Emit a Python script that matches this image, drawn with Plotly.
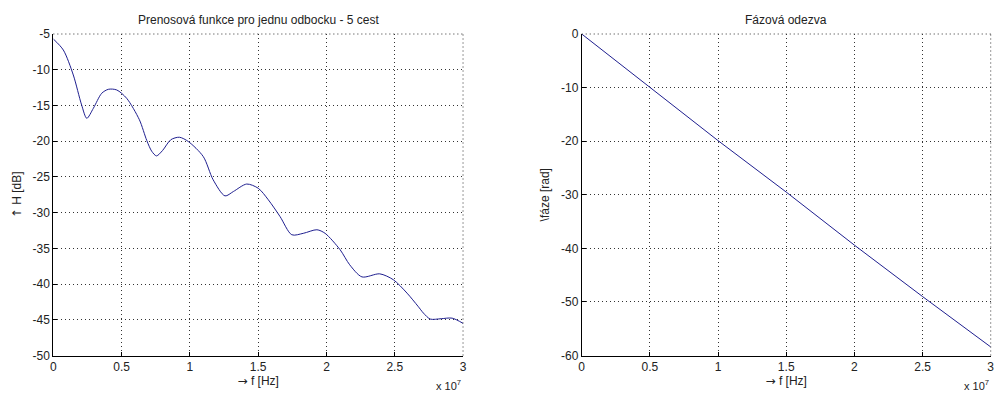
import plotly.graph_objects as go

# Magnitude response (left) – frequency in units of 1e7 Hz
f_mag = [0, 0.073, 0.146, 0.207, 0.245, 0.293, 0.354, 0.403, 0.464, 0.537, 0.63, 0.684,
         0.72, 0.755, 0.8, 0.86, 0.923, 0.989, 1.098, 1.17, 1.257, 1.318, 1.416, 1.501, 1.574,
         1.66, 1.746, 1.83, 1.93, 1.99, 2.1, 2.17, 2.26, 2.39, 2.49, 2.59, 2.67, 2.71,
         2.76, 2.84, 2.92, 3.0]
h_db = [-5.7, -7.24, -10.73, -14.93, -16.8, -15.4, -13.3, -12.74, -12.83, -14.0, -17.0, -19.9,
        -21.4, -22.06, -21.3, -19.8, -19.45, -20.06, -22.16, -25.4, -27.66, -27.05, -26.0, -26.6, -28.2,
        -30.55, -33.1, -32.9, -32.4, -32.9, -35.2, -37.3, -39.0, -38.57, -39.4, -41.27, -43.1, -44.06,
        -44.9, -44.85, -44.77, -45.5]

# Phase response (right)
f_ph = [0, 0.5, 1.0, 1.5, 2.0, 2.5, 3.0]
phase = [0, -10, -19.9, -29.5, -39.4, -49.0, -58.4]

x_ticks = [0, 0.5, 1, 1.5, 2, 2.5, 3]
x_labels = ["0", "0.5", "1", "1.5", "2", "2.5", "3"]
y1_ticks = [-5, -10, -15, -20, -25, -30, -35, -40, -45, -50]
y2_ticks = [0, -10, -20, -30, -40, -50, -60]

FONT = "Liberation Sans, Arial, sans-serif"
ARROW = "<span style='font-family:DejaVu Sans'>%s</span>"
LINE = "#1f1f8f"
TXT = "#222"
GRID = "#333"
DASH = "1px,3px"

fig = go.Figure()
fig.add_trace(go.Scatter(x=[v * 1e7 for v in f_mag], y=h_db, mode="lines",
                         line=dict(color=LINE, width=1, shape="spline", smoothing=0.8),
                         xaxis="x", yaxis="y", showlegend=False))
fig.add_trace(go.Scatter(x=[v * 1e7 for v in f_ph], y=phase, mode="lines",
                         line=dict(color=LINE, width=1),
                         xaxis="x2", yaxis="y2", showlegend=False))

common_x = dict(tickmode="array", tickvals=[v * 1e7 for v in x_ticks], ticktext=x_labels,
                range=[0, 3e7], showgrid=True, gridcolor=GRID, griddash=DASH, gridwidth=1,
                showline=True, linecolor="black", linewidth=1, ticks="inside", ticklen=4,
                tickcolor="black", zeroline=False, automargin=False,
                tickfont=dict(size=12, color=TXT, family=FONT),
                title=dict(text=(ARROW % "→") + " f [Hz]",
                           font=dict(size=12, color=TXT, family=FONT), standoff=3))
common_y = dict(showgrid=True, gridcolor=GRID, griddash=DASH, gridwidth=1,
                showline=True, linecolor="black", linewidth=1, ticks="inside", ticklen=4,
                tickcolor="black", zeroline=False, automargin=False,
                tickfont=dict(size=12, color=TXT, family=FONT))

fig.update_layout(
    width=999, height=394, margin=dict(l=0, r=0, t=0, b=0),
    paper_bgcolor="white", plot_bgcolor="white",
    font=dict(family=FONT, color=TXT),
    xaxis=dict(domain=[0.0534, 0.4635], anchor="y", **common_x),
    xaxis2=dict(domain=[0.5823, 0.9917], anchor="y2", **common_x),
    yaxis=dict(domain=[0.0977, 0.9137], anchor="x", range=[-50, -5], tickmode="array",
               tickvals=y1_ticks, ticktext=[str(v) for v in y1_ticks],
               title=dict(text=(ARROW % "↑") + " H [dB]",
                          font=dict(size=12, color=TXT, family=FONT), standoff=8),
               **common_y),
    yaxis2=dict(domain=[0.0977, 0.9137], anchor="x2", range=[-60, 0], tickmode="array",
                tickvals=y2_ticks, ticktext=[str(v) for v in y2_ticks],
                title=dict(text="\\fáze [rad]", font=dict(size=12, color=TXT, family=FONT), standoff=8),
                **common_y),
    shapes=[
        dict(type="line", xref="x domain", yref="y domain", x0=0, x1=1, y0=1, y1=1,
             line=dict(color=GRID, width=1, dash=DASH)),
        dict(type="line", xref="x domain", yref="y domain", x0=1, x1=1, y0=0, y1=1,
             line=dict(color=GRID, width=1, dash=DASH)),
        dict(type="line", xref="x2 domain", yref="y2 domain", x0=0, x1=1, y0=1, y1=1,
             line=dict(color=GRID, width=1, dash=DASH)),
        dict(type="line", xref="x2 domain", yref="y2 domain", x0=1, x1=1, y0=0, y1=1,
             line=dict(color=GRID, width=1, dash=DASH)),
    ],
    annotations=[
        dict(text="Prenosová funkce pro jednu odbocku - 5 cest", x=0.2585, y=0.927, xref="paper",
             yref="paper", showarrow=False, xanchor="center", yanchor="bottom",
             font=dict(size=12, color=TXT, family=FONT)),
        dict(text="Fázová odezva", x=0.787, y=0.927, xref="paper", yref="paper", showarrow=False,
             xanchor="center", yanchor="bottom", font=dict(size=12, color=TXT, family=FONT)),
        dict(text="x 10<sup>7</sup>", x=0.4635, y=0.0, xref="paper", yref="paper",
             showarrow=False, xanchor="right", yanchor="bottom",
             font=dict(size=11, color=TXT, family=FONT)),
        dict(text="x 10<sup>7</sup>", x=0.9917, y=0.0, xref="paper", yref="paper",
             showarrow=False, xanchor="right", yanchor="bottom",
             font=dict(size=11, color=TXT, family=FONT)),
    ],
)

fig.write_html("out.html", config={"displayModeBar": False},
               post_script="document.body.style.margin='0';document.body.style.overflow='hidden';")
